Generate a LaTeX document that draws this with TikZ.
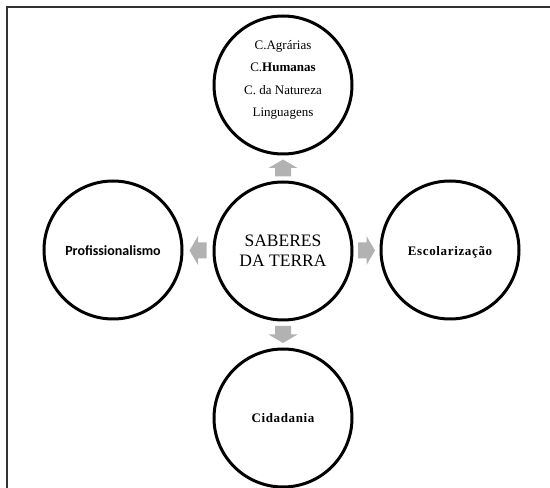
\documentclass[tikz,border=0pt]{standalone}
\usepackage{fontspec}
\setmainfont{Liberation Serif}
\newfontfamily\calibri{Carlito}
\usetikzlibrary{calc}
\begin{document}
\begin{tikzpicture}[x=1pt,y=1pt,
  circ/.style={circle,draw=black,line width=3pt,minimum size=138pt,inner sep=0pt},
  lbl/.style={align=center,inner sep=0pt},
  arrowgray/.style={fill=black!30},
  blockarrow/.pic={\fill[arrowgray] (-8.5,-8) -- (0,-8) -- (0,-14.5) -- (8.5,0) -- (0,14.5) -- (0,8) -- (-8.5,8) -- cycle;},
  framestyle/.style={line width=1.6pt,draw=black!80}]
\useasboundingbox (0,0) rectangle (550,488);
\coordinate (fa) at (7,0);
\coordinate (fb) at (7,481);
\coordinate (fc) at (550,481);
\draw[framestyle] (fa) -- (fb) -- (fc);

\node[circ] (t) at (283,403) {};
\node[circ] (c) at (283,237) {};
\node[circ] (l) at (113,238) {};
\node[circ] (r) at (450,238) {};
\node[circ] (b) at (283,70) {};

\node[lbl,font=\fontsize{13}{22.5}\selectfont] (tt) at ([yshift=5pt]t.center)
  {C.Agrárias\\C.\textbf{Humanas}\\C. da Natureza\\Linguagens};
\node[lbl,font=\fontsize{17.5}{20}\selectfont] (ct) at (c.center) {SABERES\\DA TERRA};
\node[lbl,font=\calibri\bfseries\fontsize{14}{16}\selectfont] (lt) at ([yshift=-1pt]l.center) {Profissionalismo};
\node[lbl,font=\bfseries\fontsize{13}{15}\selectfont\addfontfeature{LetterSpace=5}] (rt) at ([yshift=-2pt]r.center) {Escolarização};
\node[lbl,font=\bfseries\fontsize{13}{15}\selectfont\addfontfeature{LetterSpace=5}] (bt) at (b.center) {Cidadania};

\pic[rotate=90] at ($(c.north)!0.5!(t.south)$) {blockarrow};
\pic[rotate=-90] at ($(c.south)!0.5!(b.north)$) {blockarrow};
\pic at ($(c.east)!0.5!(r.west)$) {blockarrow};
\pic[rotate=180] at ($(c.west)!0.5!(l.east)$) {blockarrow};
\end{tikzpicture}
\end{document}
